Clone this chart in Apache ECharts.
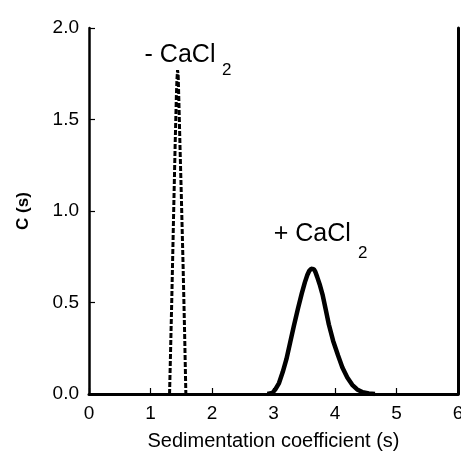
<!DOCTYPE html>
<html><head><meta charset="utf-8">
<script src="https://cdn.jsdelivr.net/npm/echarts@6/dist/echarts.min.js"></script>
<style>html,body{margin:0;padding:0;background:#fff}#c{width:461px;height:454px}</style>
</head><body><div id="c"></div>
<script>
// - CaCl2 (dashed)
const noCaX = [1.31, 1.345, 1.375, 1.40, 1.42, 1.43, 1.44, 1.45, 1.46, 1.48, 1.50, 1.53, 1.555, 1.575];
const noCaY = [0.00, 0.50, 0.97, 1.35, 1.62, 1.72, 1.77, 1.74, 1.62, 1.35, 1.10, 0.70, 0.33, 0.00];
// + CaCl2 (solid)
const caX = [2.90, 2.98, 3.03, 3.09, 3.15, 3.21, 3.27, 3.33, 3.40, 3.46, 3.51, 3.55, 3.58, 3.61, 3.63, 3.655, 3.68, 3.71, 3.75, 3.80, 3.85, 3.90, 3.97, 4.05, 4.12, 4.20, 4.28, 4.36, 4.45, 4.55, 4.65];
const caY = [0.000, 0.005, 0.025, 0.06, 0.12, 0.19, 0.28, 0.37, 0.47, 0.55, 0.61, 0.65, 0.672, 0.684, 0.686, 0.682, 0.668, 0.64, 0.60, 0.54, 0.46, 0.38, 0.29, 0.21, 0.145, 0.09, 0.05, 0.025, 0.01, 0.003, 0.000];
const xTicks = [0, 1, 2, 3, 4, 5, 6];
const yTicks = ['0.0', '0.5', '1.0', '1.5', '2.0'];
const xTitle = 'Sedimentation coefficient (s)';
const yTitle = 'C (s)';
const labelNoCa = ['- CaCl', '2'];
const labelCa = ['+ CaCl', '2'];

const FONT = '"Liberation Sans", Arial, Helvetica, sans-serif';
const chart = echarts.init(document.getElementById('c'));
const zip = (xs, ys) => xs.map((x, i) => [x, ys[i]]);
const textPt = (coord, txt, size) => ({
  value: coord,
  label: { show: true, position: 'inside', formatter: txt, color: '#000', fontSize: size,
    fontFamily: FONT, textBorderWidth: 0, opacity: 1 }
});
chart.setOption({
  animation: false,
  grid: { left: 89, right: 3, top: 28, bottom: 60, outerBoundsMode: 'none', containLabel: false },
  xAxis: {
    type: 'value', min: 0, max: 6, interval: 1,
    name: xTitle, nameLocation: 'middle', nameGap: 37,
    nameTextStyle: { color: '#000', fontSize: 20, fontFamily: FONT },
    axisLine: { show: true, lineStyle: { color: '#000', width: 3 } },
    axisTick: { show: true, inside: true, length: 6, lineStyle: { color: '#000', width: 1.2 } },
    axisLabel: { color: '#000', fontSize: 19, fontFamily: FONT, margin: 10,
      formatter: v => (xTicks.indexOf(v) >= 0 ? String(v) : '') },
    splitLine: { show: false }
  },
  yAxis: [{
    type: 'value', min: 0, max: 2, interval: 0.5,
    name: yTitle, nameLocation: 'middle', nameGap: 57,
    nameTextStyle: { color: '#000', fontSize: 17, fontWeight: 'bold', fontFamily: FONT },
    axisLine: { show: true, lineStyle: { color: '#000', width: 2.5 } },
    axisTick: { show: true, inside: true, length: 6, lineStyle: { color: '#000', width: 1.2 } },
    axisLabel: { color: '#000', fontSize: 19, fontFamily: FONT, margin: 10,
      formatter: v => yTicks[Math.round(v / 0.5)] },
    splitLine: { show: false }
  }, {
    type: 'value', min: 0, max: 2, interval: 0.5, position: 'right',
    axisLine: { show: true, lineStyle: { color: '#000', width: 3 } },
    axisTick: { show: false }, axisLabel: { show: false }, splitLine: { show: false }
  }],
  series: [{
    type: 'line', data: zip(noCaX, noCaY), showSymbol: false, smooth: false,
    lineStyle: { color: '#000', width: 3, type: [5, 2] }
  }, {
    type: 'line', data: zip(caX, caY), showSymbol: false, smooth: false,
    lineStyle: { color: '#000', width: 4.5 }
  }, {
    type: 'scatter', symbol: 'rect', symbolSize: 1, silent: true,
    itemStyle: { color: '#fff', opacity: 1 },
    data: [
      textPt([1.48, 1.85], labelNoCa[0], 25),
      textPt([2.24, 1.767], labelNoCa[1], 17),
      textPt([3.63, 0.875], labelCa[0], 25),
      textPt([4.45, 0.767], labelCa[1], 17)
    ]
  }]
});
</script></body></html>
